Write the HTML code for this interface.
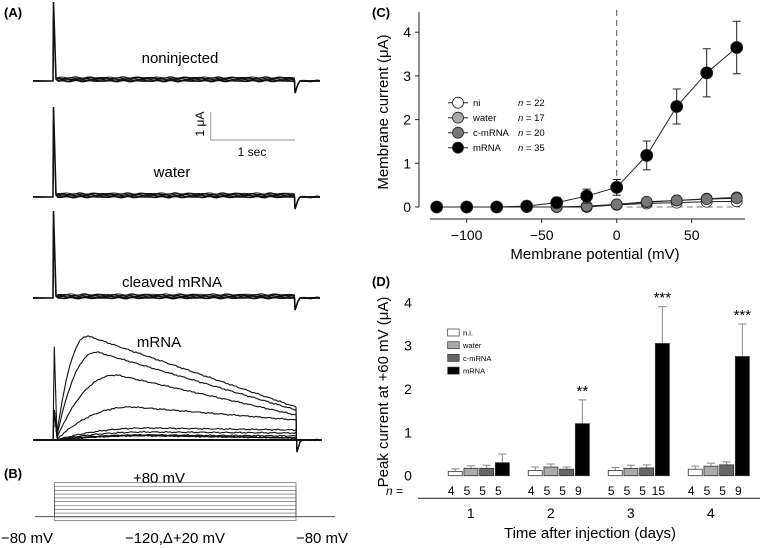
<!DOCTYPE html>
<html><head><meta charset="utf-8"><style>
body{margin:0;background:#fff;}
svg{display:block;font-family:"Liberation Sans",sans-serif;}
</style></head><body>
<svg id="fig" width="763" height="548" viewBox="0 0 763 548">
<g id="panelA"></g>
<g id="panelB"></g>
<g id="panelC"></g>
<g id="panelD"></g>
</svg>
<script>
// ---- Panel C data ----
const voltages=[-120,-100,-80,-60,-40,-20,0,20,40,60,80];
const niVals=[0,0,0,0,0,0,0.05,0.08,0.1,0.12,0.13];
const waterVals=[0,0,0,0,0,0.01,0.06,0.11,0.15,0.19,0.22];
const cmrnaVals=[0,0,0,0,0,0.02,0.06,0.12,0.15,0.18,0.2];
const mrnaVals=[0,0,0,0.02,0.1,0.25,0.45,1.18,2.3,3.07,3.65];
const mrnaErr=[0,0,0,0.02,0.12,0.16,0.18,0.33,0.4,0.55,0.6];
const cTicksX=[-100,-50,0,50];
const cTicksY=[0,1,2,3,4];
const cSeriesNames=["ni","water","c-mRNA","mRNA"];
const cSeriesN=["22","17","20","35"];
// ---- Panel D data ----
const days=[1,2,3,4];
const dNi=[0.1,0.12,0.12,0.15];
const dWater=[0.17,0.2,0.17,0.22];
const dCmrna=[0.17,0.15,0.18,0.25];
const dMrna=[0.3,1.2,3.05,2.75];
const dNiErr=[0.06,0.08,0.07,0.07];
const dWaterErr=[0.06,0.07,0.07,0.07];
const dCmrnaErr=[0.07,0.05,0.07,0.07];
const dMrnaErr=[0.2,0.55,0.85,0.75];
const dN=[["4","5","5","5"],["4","5","5","9"],["5","5","5","15"],["4","5","5","9"]];
const dStars=["","**","***","***"];
const dTicksY=[0,1,2,3,4];
const dNames=["n.i.","water","c-mRNA","mRNA"];

const NS="http://www.w3.org/2000/svg";
function mk(parent,tag,attrs,text){const e=document.createElementNS(NS,tag);for(const k in attrs)e.setAttribute(k,attrs[k]);if(text!==undefined)e.textContent=text;parent.appendChild(e);return e;}

// ===== Panel A =====
const A=document.getElementById('panelA');
let t=mk(A,'text',{x:4,y:17,'font-size':13,'font-weight':'bold'},'(A)');


function noise(i,s){return Math.sin(i*1.7+s)*0.6+Math.sin(i*0.53+s*2.1)*0.5;}
function flatGroup(base,spikeTop,seed){
  const g=mk(A,'g',{});
  
  
  for(let k=0;k<7;k++){
    let d=`M33,${base+noise(0,k)*0.5} L53,${base} L53.5,${spikeTop+k} L56,${base-2} `;
    for(let x=58;x<=294;x+=3){d+=`L${x},${(base-k*0.6+noise(x,k+seed)*0.7).toFixed(1)} `;}
    d+=`L294.5,${base-k*0.5} L295,${base+12} L298,${base+3} L300,${base} `;
    for(let x=302;x<=320;x+=3)d+=`L${x},${(base+noise(x,k)*0.6).toFixed(1)} `;
    mk(g,'path',{d:d,fill:'none',stroke:'#111','stroke-width':k==0?1.6:0.9});
  }
}
flatGroup(81,2,1);flatGroup(197,107,3);flatGroup(298,211,5);
const labsA=[["noninjected",180,63],["water",172,177],["cleaved mRNA",172,287],["mRNA",159,347]];
labsA.forEach(l=>{const e=mk(A,'text',{x:l[1],y:l[2],'font-size':15,'text-anchor':'middle'},l[0]);

});
// scale bar
const sb=mk(A,'path',{d:'M210.7,112 L210.7,140 L295,140',fill:'none',stroke:'#999','stroke-width':1});


t=mk(A,'text',{x:0,y:0,'font-size':12,'text-anchor':'middle',transform:'translate(204,124) rotate(-90)'},'1 μA');


t=mk(A,'text',{x:252,y:156,'font-size':12,'text-anchor':'middle'},'1 sec');


// mRNA traces
const gm=mk(A,'g',{});


const curves=[[88,336,407,20],[97,352,410,28],[117,375,415,38],[133,407,420,50],[150,428,430,60],[150,432,433,60],[150,435,436,60]];
for(let k=0;k<11;k++){
  const base=440;let d=`M33,${base} L53,${base} L54.3,${k==0?346.7:base-30} L57,${base-3} `;
  const c=curves[k]||[150,438-k*0.3,438,60];
  for(let x=58;x<=296;x+=2){
    let y;
    if(x<c[0]){const f=(x-56)/(c[0]-56);y=base-(base-c[1])*(1-Math.pow(1-f,2.2));}
    else{const f=(x-c[0])/(296-c[0]);y=c[1]+(c[2]-c[1])*f;}
    y+=noise(x,k)*0.7;d+=`L${x},${y.toFixed(1)} `;
  }
  d+=`L296.5,${base} L297,${base+12} L300,${base+2} `;
  for(let x=302;x<=322;x+=3)d+=`L${x},${(base+noise(x,k)*0.6).toFixed(1)} `;
  mk(gm,'path',{d:d,fill:'none',stroke:'#111','stroke-width':k>6?0.9:1.1});
}
mk(gm,'path',{d:'M33,440 L322,440',stroke:'#111','stroke-width':2});

// ===== Panel B =====
const B=document.getElementById('panelB');
t=mk(B,'text',{x:4,y:478,'font-size':13,'font-weight':'bold'},'(B)');


t=mk(B,'text',{x:159,y:483,'font-size':15,'text-anchor':'middle'},'+80 mV');


mk(B,'path',{d:'M35,516.7 L335,516.7',stroke:'#333','stroke-width':0.8});
for(let i=0;i<11;i++){const y=482.7+i*3.8;mk(B,'path',{d:`M54.3,516.7 L54.3,${y} L296,${y} L296,516.7`,fill:'none',stroke:'#555','stroke-width':0.6});}
[["−80 mV",27,543],["−120,Δ+20 mV",175,543],["−80 mV",322,543]].forEach(l=>{const e=mk(B,'text',{x:l[1],y:l[2],'font-size':15,'text-anchor':'middle'},l[0]);

});

// ===== Panel C =====
const C=document.getElementById('panelC');
const cx=v=>616.7+(v)*1.5, cy=v=>207-v*43.7;
t=mk(C,'text',{x:372,y:17,'font-size':13,'font-weight':'bold'},'(C)');


mk(C,'path',{d:`M419,12 L419,${cy(0)}`,stroke:'#222','stroke-width':1});
mk(C,'path',{d:'M430,219 L745,219',stroke:'#222','stroke-width':1});
cTicksY.forEach(v=>{mk(C,'path',{d:`M415,${cy(v)} L419,${cy(v)}`,stroke:'#222'});
const e=mk(C,'text',{x:411,y:cy(v)+5,'font-size':14,'text-anchor':'end'},String(v));

});
cTicksX.forEach(v=>{mk(C,'path',{d:`M${cx(v)},219 L${cx(v)},223`,stroke:'#222'});
const e=mk(C,'text',{x:cx(v),y:240,'font-size':14,'text-anchor':'middle'},v<0?'−'+(-v):String(v));

});
t=mk(C,'text',{x:595,y:259,'font-size':15,'text-anchor':'middle'},'Membrane potential (mV)');


t=mk(C,'text',{x:0,y:0,'font-size':15,'text-anchor':'middle',transform:'translate(388,112) rotate(-90)'},'Membrane current (μA)');


mk(C,'path',{d:`M${cx(0)},10 L${cx(0)},${cy(0)}`,stroke:'#555','stroke-dasharray':'6,4'});
mk(C,'path',{d:`M${cx(0)},${cy(0)} L${cx(80)+3},${cy(0)}`,stroke:'#777','stroke-dasharray':'6,4'});
const cSeries=[[niVals,'#fff'],[waterVals,'#aaa'],[cmrnaVals,'#777'],[mrnaVals,'#000']];
cSeries.forEach((s,si)=>{
  const g=mk(C,'g',{});
  
  
  mk(g,'path',{d:s[0].map((v,i)=>(i?'L':'M')+cx(voltages[i])+','+cy(v)).join(' '),fill:'none',stroke:'#222','stroke-width':1});
  if(si==3){voltages.forEach((v,i)=>{if(mrnaErr[i]>0.05){const x=cx(v);mk(g,'path',{d:`M${x},${cy(s[0][i]-mrnaErr[i])} L${x},${cy(s[0][i]+mrnaErr[i])} M${x-4},${cy(s[0][i]+mrnaErr[i])} L${x+4},${cy(s[0][i]+mrnaErr[i])} M${x-4},${cy(s[0][i]-mrnaErr[i])} L${x+4},${cy(s[0][i]-mrnaErr[i])}`,stroke:'#222'});}});}
  s[0].forEach((v,i)=>{const p=mk(g,'circle',{cx:cx(voltages[i]),cy:cy(v),r:si==3?6:5.5,fill:s[1],stroke:'#222','stroke-width':0.8});
  
  });
});
cSeriesNames.forEach((n,i)=>{const y=102.7+i*15;
  const g=mk(C,'g',{});
  
  
  mk(g,'path',{d:`M448,${y} L468,${y}`,stroke:'#222'});
  mk(g,'circle',{cx:458,cy:y,r:5.5,fill:cSeries[i][1],stroke:'#222','stroke-width':0.8});
  mk(g,'text',{x:473,y:y+3.5,'font-size':9.5},n);
  mk(g,'text',{x:518,y:y+3.5,'font-size':9.5},'').innerHTML='<tspan font-style="italic">n</tspan> = '+cSeriesN[i];
});

// ===== Panel D =====
const D=document.getElementById('panelD');
const dy=v=>475.7-v*43.35;
const dCenter=d=>478.8+(d-1)*80;
const bw=14, bstep=15.7;
t=mk(D,'text',{x:372,y:286,'font-size':13,'font-weight':'bold'},'(D)');


mk(D,'path',{d:'M418,498.3 L760,498.3',stroke:'#222'});
dTicksY.forEach(v=>{const e=mk(D,'text',{x:408,y:dy(v)+5,'font-size':14,'text-anchor':'middle'},String(v));

});
t=mk(D,'text',{x:0,y:0,'font-size':15,'text-anchor':'middle',transform:'translate(388,392) rotate(-90)'},'Peak current at +60 mV (μA)');


t=mk(D,'text',{x:590,y:538,'font-size':15,'text-anchor':'middle'},'Time after injection (days)');


t=mk(D,'text',{x:386,y:495,'font-size':12},'');t.innerHTML='<tspan font-style="italic">n</tspan> =';


const dSeries=[[dNi,dNiErr,'#fff'],[dWater,dWaterErr,'#aaa'],[dCmrna,dCmrnaErr,'#666'],[dMrna,dMrnaErr,'#000']];
days.forEach((d,di)=>{
  const x0=dCenter(d)-2*bstep+ (bstep-bw)/2;
  dSeries.forEach((s,si)=>{
    const x=x0+si*bstep, v=s[0][di], e=s[1][di];
    mk(D,'path',{d:`M${x+bw/2},${dy(v)} L${x+bw/2},${dy(v+e)} M${x+bw/2-4},${dy(v+e)} L${x+bw/2+4},${dy(v+e)}`,stroke:'#888'});
    const r=mk(D,'rect',{x:x,y:dy(v),width:bw,height:dy(0)-dy(v),fill:s[2],stroke:'#333','stroke-width':0.8});
    
    
    const n=mk(D,'text',{x:x+bw/2-4,y:495,'font-size':12,'text-anchor':'middle'},dN[di][si]);
    
    
    if(si==3&&dStars[di]){const st=mk(D,'text',{x:x+bw/2,y:dy(v+e)-4,'font-size':15,'text-anchor':'middle'},dStars[di]);
    
    }
  });
  const tl=mk(D,'text',{x:dCenter(d)-8,y:518,'font-size':14,'text-anchor':'middle'},String(d));
  
  
});
dNames.forEach((n,i)=>{const y=329+i*12.7;
  const g=mk(D,'g',{});
  
  
  mk(g,'rect',{x:447.7,y:y,width:11.5,height:7,fill:dSeries[i][2],stroke:'#333','stroke-width':0.7});
  mk(g,'text',{x:463,y:y+6.5,'font-size':7.5},n);
});
</script>
</body></html>
